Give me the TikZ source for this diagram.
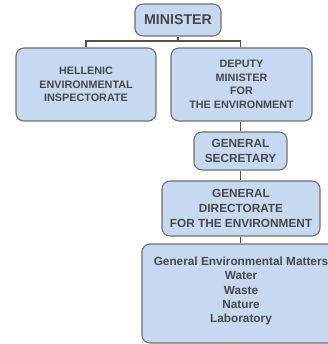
\documentclass[tikz,border=0pt]{standalone}
\usepackage{fontspec}
\setmainfont{Liberation Sans}
\definecolor{boxfill}{HTML}{C6D9F0}
\definecolor{boxline}{HTML}{707070}
\definecolor{wire}{HTML}{5C5044}
\definecolor{ink}{HTML}{484848}
\begin{document}
\begin{tikzpicture}[x=1pt,y=-1pt,
    orgbox/.style={draw=boxline,fill=boxfill,line width=1.1pt,rounded corners=8pt,align=center,text=ink,inner sep=0pt,font=\fontsize{11.8}{15}\selectfont\bfseries},
    wire/.style={draw=wire,line width=1.4pt}]
    \useasboundingbox (0,0) rectangle (328,344);
    \clip (0,0) rectangle (328,344);
    \node[orgbox,minimum width=86pt,minimum height=32pt,font=\fontsize{14.2}{16}\selectfont\bfseries] (minister) at (178,20) {MINISTER};
    \node[orgbox,minimum width=140pt,minimum height=73pt,font=\fontsize{10.8}{13.5}\selectfont\bfseries] (inspect) at (86,84.5) {HELLENIC\\ENVIRONMENTAL\\INSPECTORATE};
    \node[orgbox,minimum width=141pt,minimum height=73pt,font=\fontsize{10.8}{13.5}\selectfont\bfseries] (deputy) at (241.5,84.5) {DEPUTY\\MINISTER\\FOR\\THE ENVIRONMENT};
    \node[orgbox,minimum width=93pt,minimum height=38pt] (gensec) at (240.5,151) {GENERAL\\SECRETARY};
    \node[orgbox,minimum width=158pt,minimum height=55pt] (gendir) at (241,208.5) {GENERAL\\DIRECTORATE\\FOR THE ENVIRONMENT};
    \node[orgbox,minimum width=198pt,minimum height=99pt,font=\fontsize{11.8}{14.2}\selectfont\bfseries] (units) at (241,293.5) {General Environmental Matters\\Water\\Waste\\Nature\\Laboratory\\[-7pt]\mbox{}};
    \coordinate (fork) at (178,41);
    \draw[wire] (minister.south) -- (fork) -| (inspect.north);
    \draw[wire] (fork) -| (deputy.north -| gensec.north);
    \draw[wire] (deputy.south -| gensec.north) -- (gensec.north);
    \draw[wire] (gensec.south) -- (gensec.south |- gendir.north);
    \draw[wire] (gensec.south |- gendir.south) -- (gensec.south |- units.north);
\end{tikzpicture}
\end{document}
